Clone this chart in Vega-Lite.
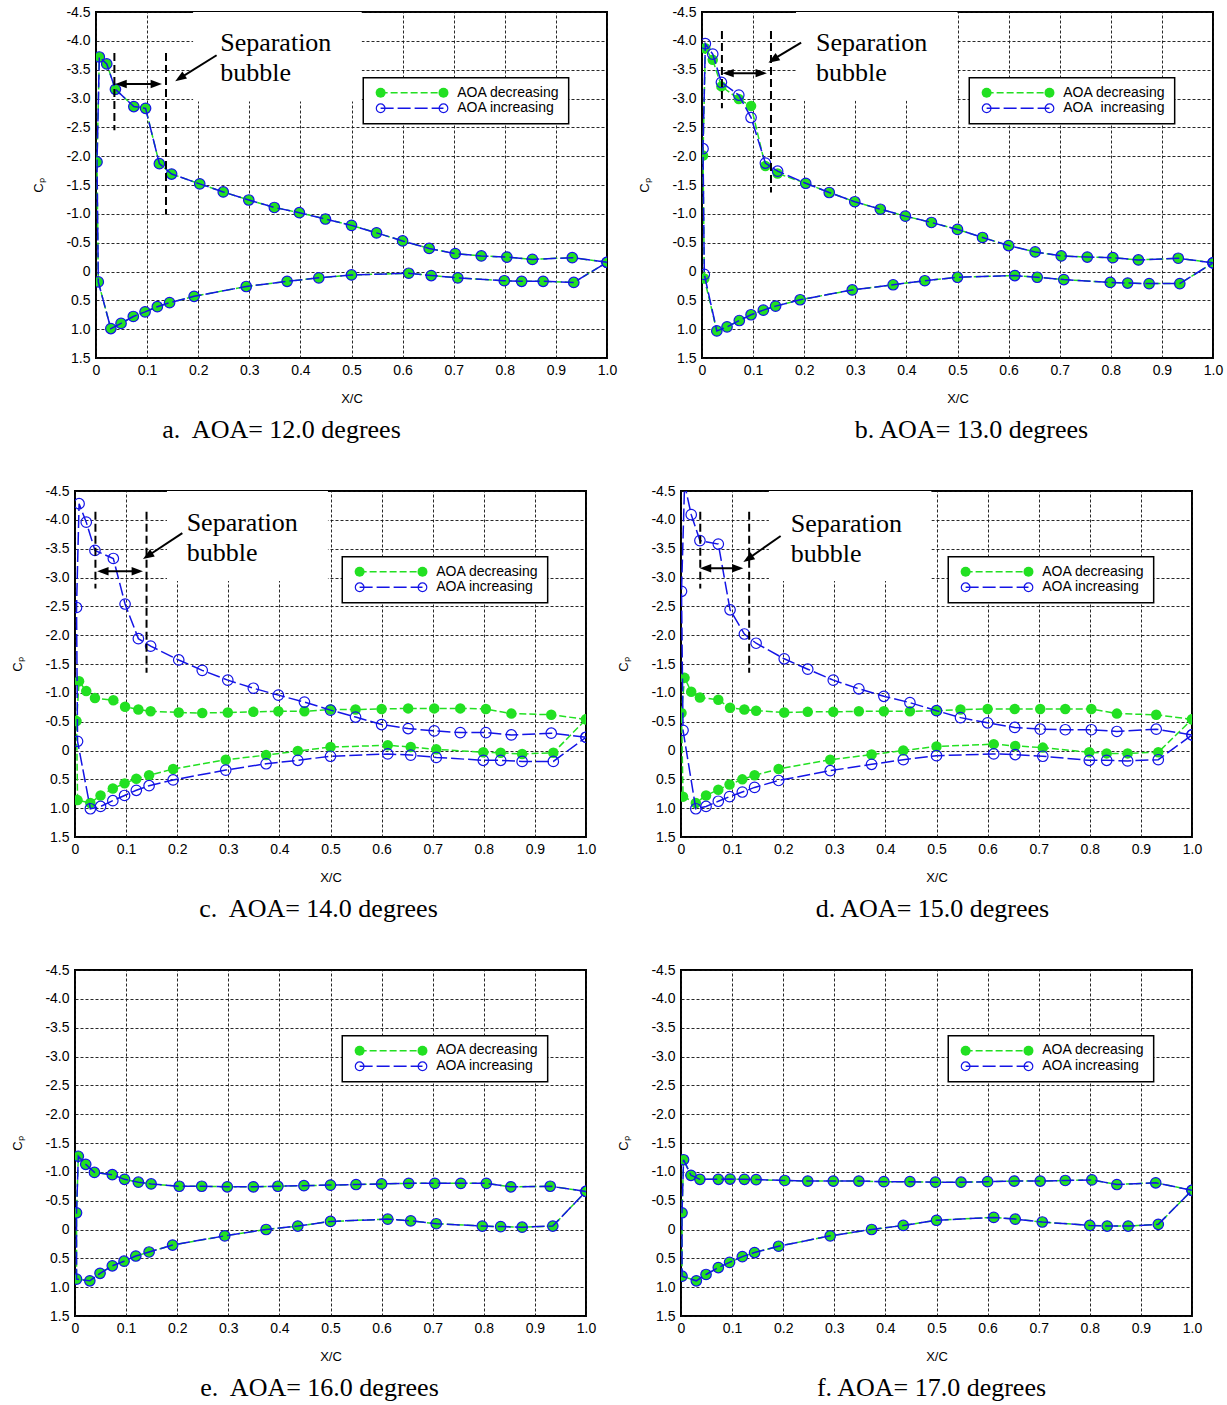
{
"$schema":"https://vega.github.io/schema/vega-lite/v6.json",
"background":"white",
"padding":{"left":10,"top":4,"right":0,"bottom":0},
"config":{
"font":"Liberation Sans",
"view":{"stroke":"#000","strokeWidth":2},
"axis":{"grid":true,"gridColor":"#111","gridDash":[3,2],"gridWidth":0.9,"domain":false,"ticks":false,"labelFont":"Liberation Sans","labelFontSize":14,"labelColor":"#000","labelFlush":false,"labelOverlap":false,"titleFont":"Liberation Sans","titleFontSize":13,"titleFontWeight":"normal","titleColor":"#000"},
"axisX":{"labelPadding":5,"titlePadding":15},
"axisY":{"labelPadding":6,"titlePadding":20},
"title":{"font":"Liberation Serif","fontSize":26,"fontWeight":"normal","color":"#000","orient":"bottom","frame":"group","anchor":"middle","offset":12}
},
"datasets":{
"cp":[
{"panel":"a","ord":0,"x":1,"dec":-0.16,"inc":-0.16},{"panel":"a","ord":1,"x":0.932,"dec":-0.24,"inc":-0.24},{"panel":"a","ord":2,"x":0.854,"dec":-0.21,"inc":-0.21},{"panel":"a","ord":3,"x":0.804,"dec":-0.25,"inc":-0.25},{"panel":"a","ord":4,"x":0.754,"dec":-0.27,"inc":-0.27},{"panel":"a","ord":5,"x":0.703,"dec":-0.31,"inc":-0.31},{"panel":"a","ord":6,"x":0.652,"dec":-0.4,"inc":-0.4},{"panel":"a","ord":7,"x":0.6,"dec":-0.53,"inc":-0.53},{"panel":"a","ord":8,"x":0.549,"dec":-0.67,"inc":-0.67},{"panel":"a","ord":9,"x":0.5,"dec":-0.8,"inc":-0.8},{"panel":"a","ord":10,"x":0.449,"dec":-0.91,"inc":-0.91},{"panel":"a","ord":11,"x":0.398,"dec":-1.02,"inc":-1.02},{"panel":"a","ord":12,"x":0.349,"dec":-1.11,"inc":-1.11},{"panel":"a","ord":13,"x":0.299,"dec":-1.24,"inc":-1.24},{"panel":"a","ord":14,"x":0.249,"dec":-1.38,"inc":-1.38},{"panel":"a","ord":15,"x":0.203,"dec":-1.52,"inc":-1.52},{"panel":"a","ord":16,"x":0.148,"dec":-1.69,"inc":-1.69},{"panel":"a","ord":17,"x":0.124,"dec":-1.87,"inc":-1.87},{"panel":"a","ord":18,"x":0.097,"dec":-2.83,"inc":-2.83},{"panel":"a","ord":19,"x":0.074,"dec":-2.86,"inc":-2.86},{"panel":"a","ord":20,"x":0.038,"dec":-3.16,"inc":-3.16},{"panel":"a","ord":21,"x":0.021,"dec":-3.6,"inc":-3.6},{"panel":"a","ord":22,"x":0.0065,"dec":-3.72,"inc":-3.72},{"panel":"a","ord":23,"x":0.002,"dec":-1.9,"inc":-1.9},
{"panel":"a","ord":24,"x":0.0045,"dec":0.18,"inc":0.18},{"panel":"a","ord":25,"x":0.029,"dec":0.99,"inc":0.99},{"panel":"a","ord":26,"x":0.049,"dec":0.9,"inc":0.9},{"panel":"a","ord":27,"x":0.073,"dec":0.78,"inc":0.78},{"panel":"a","ord":28,"x":0.096,"dec":0.7,"inc":0.7},{"panel":"a","ord":29,"x":0.12,"dec":0.61,"inc":0.61},{"panel":"a","ord":30,"x":0.144,"dec":0.54,"inc":0.54},{"panel":"a","ord":31,"x":0.192,"dec":0.43,"inc":0.43},{"panel":"a","ord":32,"x":0.294,"dec":0.26,"inc":0.26},{"panel":"a","ord":33,"x":0.374,"dec":0.17,"inc":0.17},{"panel":"a","ord":34,"x":0.436,"dec":0.11,"inc":0.11},{"panel":"a","ord":35,"x":0.5,"dec":0.06,"inc":0.06},{"panel":"a","ord":36,"x":0.612,"dec":0.03,"inc":0.03},{"panel":"a","ord":37,"x":0.656,"dec":0.07,"inc":0.07},{"panel":"a","ord":38,"x":0.708,"dec":0.11,"inc":0.11},{"panel":"a","ord":39,"x":0.799,"dec":0.16,"inc":0.16},{"panel":"a","ord":40,"x":0.833,"dec":0.17,"inc":0.17},{"panel":"a","ord":41,"x":0.875,"dec":0.17,"inc":0.17},{"panel":"a","ord":42,"x":0.935,"dec":0.19,"inc":0.19},{"panel":"a","ord":43,"x":1,"dec":-0.16,"inc":-0.16},
{"panel":"b","ord":0,"x":1,"dec":-0.15,"inc":-0.15},{"panel":"b","ord":1,"x":0.932,"dec":-0.23,"inc":-0.23},{"panel":"b","ord":2,"x":0.854,"dec":-0.2,"inc":-0.2},{"panel":"b","ord":3,"x":0.804,"dec":-0.24,"inc":-0.24},{"panel":"b","ord":4,"x":0.754,"dec":-0.25,"inc":-0.25},{"panel":"b","ord":5,"x":0.703,"dec":-0.27,"inc":-0.27},{"panel":"b","ord":6,"x":0.652,"dec":-0.34,"inc":-0.34},{"panel":"b","ord":7,"x":0.6,"dec":-0.45,"inc":-0.45},{"panel":"b","ord":8,"x":0.549,"dec":-0.59,"inc":-0.59},{"panel":"b","ord":9,"x":0.5,"dec":-0.73,"inc":-0.73},{"panel":"b","ord":10,"x":0.449,"dec":-0.85,"inc":-0.85},{"panel":"b","ord":11,"x":0.398,"dec":-0.96,"inc":-0.96},{"panel":"b","ord":12,"x":0.349,"dec":-1.08,"inc":-1.08},{"panel":"b","ord":13,"x":0.299,"dec":-1.21,"inc":-1.21},{"panel":"b","ord":14,"x":0.249,"dec":-1.37,"inc":-1.37},{"panel":"b","ord":15,"x":0.203,"dec":-1.53,"inc":-1.53},{"panel":"b","ord":16,"x":0.148,"dec":-1.7,"inc":-1.74},{"panel":"b","ord":17,"x":0.124,"dec":-1.83,"inc":-1.88},{"panel":"b","ord":18,"x":0.096,"dec":-2.87,"inc":-2.67},{"panel":"b","ord":19,"x":0.072,"dec":-2.99,"inc":-3.06},{"panel":"b","ord":20,"x":0.038,"dec":-3.21,"inc":-3.28},{"panel":"b","ord":21,"x":0.021,"dec":-3.67,"inc":-3.77},{"panel":"b","ord":22,"x":0.0065,"dec":-3.87,"inc":-3.95},{"panel":"b","ord":23,"x":0.002,"dec":-2.01,"inc":-2.13},
{"panel":"b","ord":24,"x":0.0045,"dec":0.12,"inc":0.05},{"panel":"b","ord":25,"x":0.029,"dec":1.03,"inc":1.03},{"panel":"b","ord":26,"x":0.049,"dec":0.96,"inc":0.96},{"panel":"b","ord":27,"x":0.073,"dec":0.85,"inc":0.85},{"panel":"b","ord":28,"x":0.096,"dec":0.75,"inc":0.75},{"panel":"b","ord":29,"x":0.12,"dec":0.67,"inc":0.67},{"panel":"b","ord":30,"x":0.144,"dec":0.6,"inc":0.6},{"panel":"b","ord":31,"x":0.192,"dec":0.49,"inc":0.49},{"panel":"b","ord":32,"x":0.294,"dec":0.32,"inc":0.32},{"panel":"b","ord":33,"x":0.374,"dec":0.23,"inc":0.23},{"panel":"b","ord":34,"x":0.436,"dec":0.16,"inc":0.16},{"panel":"b","ord":35,"x":0.5,"dec":0.1,"inc":0.1},{"panel":"b","ord":36,"x":0.612,"dec":0.07,"inc":0.07},{"panel":"b","ord":37,"x":0.656,"dec":0.1,"inc":0.1},{"panel":"b","ord":38,"x":0.708,"dec":0.14,"inc":0.14},{"panel":"b","ord":39,"x":0.799,"dec":0.19,"inc":0.19},{"panel":"b","ord":40,"x":0.833,"dec":0.2,"inc":0.2},{"panel":"b","ord":41,"x":0.875,"dec":0.21,"inc":0.21},{"panel":"b","ord":42,"x":0.935,"dec":0.21,"inc":0.21},{"panel":"b","ord":43,"x":1,"dec":-0.15,"inc":-0.15},
{"panel":"c","ord":0,"x":1,"dec":-0.54,"inc":-0.23},{"panel":"c","ord":1,"x":0.932,"dec":-0.62,"inc":-0.3},{"panel":"c","ord":2,"x":0.854,"dec":-0.64,"inc":-0.27},{"panel":"c","ord":3,"x":0.804,"dec":-0.72,"inc":-0.31},{"panel":"c","ord":4,"x":0.754,"dec":-0.73,"inc":-0.31},{"panel":"c","ord":5,"x":0.703,"dec":-0.73,"inc":-0.34},{"panel":"c","ord":6,"x":0.652,"dec":-0.73,"inc":-0.38},{"panel":"c","ord":7,"x":0.6,"dec":-0.72,"inc":-0.45},{"panel":"c","ord":8,"x":0.549,"dec":-0.71,"inc":-0.58},{"panel":"c","ord":9,"x":0.5,"dec":-0.71,"inc":-0.7},{"panel":"c","ord":10,"x":0.449,"dec":-0.68,"inc":-0.84},{"panel":"c","ord":11,"x":0.398,"dec":-0.68,"inc":-0.96},{"panel":"c","ord":12,"x":0.349,"dec":-0.67,"inc":-1.08},{"panel":"c","ord":13,"x":0.299,"dec":-0.66,"inc":-1.22},{"panel":"c","ord":14,"x":0.249,"dec":-0.65,"inc":-1.39},{"panel":"c","ord":15,"x":0.203,"dec":-0.66,"inc":-1.57},{"panel":"c","ord":16,"x":0.148,"dec":-0.68,"inc":-1.81},{"panel":"c","ord":17,"x":0.124,"dec":-0.71,"inc":-1.94},{"panel":"c","ord":18,"x":0.098,"dec":-0.76,"inc":-2.54},{"panel":"c","ord":19,"x":0.075,"dec":-0.87,"inc":-3.33},{"panel":"c","ord":20,"x":0.039,"dec":-0.91,"inc":-3.47},{"panel":"c","ord":21,"x":0.022,"dec":-1.03,"inc":-3.96},{"panel":"c","ord":22,"x":0.008,"dec":-1.2,"inc":-4.28},{"panel":"c","ord":23,"x":0.003,"dec":-0.51,"inc":-2.48},
{"panel":"c","ord":24,"x":0.005,"dec":0.86,"inc":-0.16},{"panel":"c","ord":25,"x":0.03,"dec":0.91,"inc":1.01},{"panel":"c","ord":26,"x":0.05,"dec":0.78,"inc":0.97},{"panel":"c","ord":27,"x":0.074,"dec":0.66,"inc":0.87},{"panel":"c","ord":28,"x":0.097,"dec":0.57,"inc":0.78},{"panel":"c","ord":29,"x":0.12,"dec":0.49,"inc":0.69},{"panel":"c","ord":30,"x":0.145,"dec":0.43,"inc":0.61},{"panel":"c","ord":31,"x":0.192,"dec":0.32,"inc":0.51},{"panel":"c","ord":32,"x":0.295,"dec":0.16,"inc":0.34},{"panel":"c","ord":33,"x":0.374,"dec":0.08,"inc":0.23},{"panel":"c","ord":34,"x":0.436,"dec":0.01,"inc":0.17},{"panel":"c","ord":35,"x":0.5,"dec":-0.06,"inc":0.1},{"panel":"c","ord":36,"x":0.612,"dec":-0.09,"inc":0.06},{"panel":"c","ord":37,"x":0.657,"dec":-0.06,"inc":0.08},{"panel":"c","ord":38,"x":0.707,"dec":-0.02,"inc":0.12},{"panel":"c","ord":39,"x":0.799,"dec":0.03,"inc":0.17},{"panel":"c","ord":40,"x":0.833,"dec":0.04,"inc":0.17},{"panel":"c","ord":41,"x":0.875,"dec":0.06,"inc":0.19},{"panel":"c","ord":42,"x":0.936,"dec":0.04,"inc":0.19},{"panel":"c","ord":43,"x":1,"dec":-0.54,"inc":-0.23},
{"panel":"d","ord":0,"x":1,"dec":-0.54,"inc":-0.27},{"panel":"d","ord":1,"x":0.93,"dec":-0.62,"inc":-0.37},{"panel":"d","ord":2,"x":0.853,"dec":-0.64,"inc":-0.33},{"panel":"d","ord":3,"x":0.803,"dec":-0.72,"inc":-0.36},{"panel":"d","ord":4,"x":0.752,"dec":-0.72,"inc":-0.36},{"panel":"d","ord":5,"x":0.703,"dec":-0.72,"inc":-0.37},{"panel":"d","ord":6,"x":0.653,"dec":-0.72,"inc":-0.4},{"panel":"d","ord":7,"x":0.6,"dec":-0.72,"inc":-0.48},{"panel":"d","ord":8,"x":0.547,"dec":-0.71,"inc":-0.57},{"panel":"d","ord":9,"x":0.5,"dec":-0.69,"inc":-0.69},{"panel":"d","ord":10,"x":0.448,"dec":-0.68,"inc":-0.83},{"panel":"d","ord":11,"x":0.397,"dec":-0.68,"inc":-0.94},{"panel":"d","ord":12,"x":0.348,"dec":-0.68,"inc":-1.07},{"panel":"d","ord":13,"x":0.298,"dec":-0.67,"inc":-1.22},{"panel":"d","ord":14,"x":0.248,"dec":-0.67,"inc":-1.41},{"panel":"d","ord":15,"x":0.202,"dec":-0.66,"inc":-1.59},{"panel":"d","ord":16,"x":0.147,"dec":-0.69,"inc":-1.86},{"panel":"d","ord":17,"x":0.124,"dec":-0.71,"inc":-2.02},{"panel":"d","ord":18,"x":0.096,"dec":-0.74,"inc":-2.44},{"panel":"d","ord":19,"x":0.073,"dec":-0.88,"inc":-3.58},{"panel":"d","ord":20,"x":0.037,"dec":-0.92,"inc":-3.64},{"panel":"d","ord":21,"x":0.02,"dec":-1.02,"inc":-4.09},{"panel":"d","ord":22,"x":0.007,"dec":-1.26,"inc":-4.62},{"panel":"d","ord":23,"x":0.001,"dec":-0.65,"inc":-2.76},
{"panel":"d","ord":24,"x":0.004,"dec":0.8,"inc":-0.35},{"panel":"d","ord":25,"x":0.029,"dec":0.91,"inc":1.01},{"panel":"d","ord":26,"x":0.049,"dec":0.78,"inc":0.97},{"panel":"d","ord":27,"x":0.073,"dec":0.68,"inc":0.88},{"panel":"d","ord":28,"x":0.095,"dec":0.59,"inc":0.8},{"panel":"d","ord":29,"x":0.12,"dec":0.5,"inc":0.72},{"panel":"d","ord":30,"x":0.144,"dec":0.43,"inc":0.64},{"panel":"d","ord":31,"x":0.191,"dec":0.32,"inc":0.52},{"panel":"d","ord":32,"x":0.292,"dec":0.16,"inc":0.35},{"panel":"d","ord":33,"x":0.373,"dec":0.07,"inc":0.24},{"panel":"d","ord":34,"x":0.435,"dec":0,"inc":0.16},{"panel":"d","ord":35,"x":0.5,"dec":-0.07,"inc":0.09},{"panel":"d","ord":36,"x":0.612,"dec":-0.11,"inc":0.06},{"panel":"d","ord":37,"x":0.654,"dec":-0.08,"inc":0.07},{"panel":"d","ord":38,"x":0.708,"dec":-0.05,"inc":0.1},{"panel":"d","ord":39,"x":0.799,"dec":0.03,"inc":0.17},{"panel":"d","ord":40,"x":0.833,"dec":0.05,"inc":0.17},{"panel":"d","ord":41,"x":0.874,"dec":0.05,"inc":0.18},{"panel":"d","ord":42,"x":0.934,"dec":0.03,"inc":0.16},{"panel":"d","ord":43,"x":1,"dec":-0.54,"inc":-0.27},
{"panel":"e","ord":0,"x":1,"dec":-0.66,"inc":-0.66},{"panel":"e","ord":1,"x":0.93,"dec":-0.75,"inc":-0.75},{"panel":"e","ord":2,"x":0.853,"dec":-0.74,"inc":-0.74},{"panel":"e","ord":3,"x":0.805,"dec":-0.8,"inc":-0.8},{"panel":"e","ord":4,"x":0.755,"dec":-0.8,"inc":-0.8},{"panel":"e","ord":5,"x":0.704,"dec":-0.8,"inc":-0.8},{"panel":"e","ord":6,"x":0.653,"dec":-0.8,"inc":-0.8},{"panel":"e","ord":7,"x":0.6,"dec":-0.79,"inc":-0.79},{"panel":"e","ord":8,"x":0.55,"dec":-0.78,"inc":-0.78},{"panel":"e","ord":9,"x":0.5,"dec":-0.77,"inc":-0.77},{"panel":"e","ord":10,"x":0.448,"dec":-0.76,"inc":-0.76},{"panel":"e","ord":11,"x":0.397,"dec":-0.75,"inc":-0.75},{"panel":"e","ord":12,"x":0.349,"dec":-0.74,"inc":-0.74},{"panel":"e","ord":13,"x":0.298,"dec":-0.74,"inc":-0.74},{"panel":"e","ord":14,"x":0.248,"dec":-0.75,"inc":-0.75},{"panel":"e","ord":15,"x":0.204,"dec":-0.75,"inc":-0.75},{"panel":"e","ord":16,"x":0.149,"dec":-0.79,"inc":-0.79},{"panel":"e","ord":17,"x":0.124,"dec":-0.82,"inc":-0.82},{"panel":"e","ord":18,"x":0.097,"dec":-0.87,"inc":-0.87},{"panel":"e","ord":19,"x":0.073,"dec":-0.95,"inc":-0.95},{"panel":"e","ord":20,"x":0.038,"dec":-0.99,"inc":-0.99},{"panel":"e","ord":21,"x":0.021,"dec":-1.13,"inc":-1.13},{"panel":"e","ord":22,"x":0.0065,"dec":-1.27,"inc":-1.27},{"panel":"e","ord":23,"x":0.003,"dec":-0.29,"inc":-0.29},
{"panel":"e","ord":24,"x":0.003,"dec":0.86,"inc":0.86},{"panel":"e","ord":25,"x":0.029,"dec":0.89,"inc":0.89},{"panel":"e","ord":26,"x":0.049,"dec":0.76,"inc":0.76},{"panel":"e","ord":27,"x":0.073,"dec":0.63,"inc":0.63},{"panel":"e","ord":28,"x":0.096,"dec":0.55,"inc":0.55},{"panel":"e","ord":29,"x":0.119,"dec":0.46,"inc":0.46},{"panel":"e","ord":30,"x":0.145,"dec":0.39,"inc":0.39},{"panel":"e","ord":31,"x":0.191,"dec":0.27,"inc":0.27},{"panel":"e","ord":32,"x":0.293,"dec":0.11,"inc":0.11},{"panel":"e","ord":33,"x":0.374,"dec":0,"inc":0},{"panel":"e","ord":34,"x":0.436,"dec":-0.06,"inc":-0.06},{"panel":"e","ord":35,"x":0.5,"dec":-0.14,"inc":-0.14},{"panel":"e","ord":36,"x":0.612,"dec":-0.18,"inc":-0.18},{"panel":"e","ord":37,"x":0.657,"dec":-0.15,"inc":-0.15},{"panel":"e","ord":38,"x":0.707,"dec":-0.1,"inc":-0.1},{"panel":"e","ord":39,"x":0.797,"dec":-0.06,"inc":-0.06},{"panel":"e","ord":40,"x":0.833,"dec":-0.05,"inc":-0.05},{"panel":"e","ord":41,"x":0.875,"dec":-0.04,"inc":-0.04},{"panel":"e","ord":42,"x":0.935,"dec":-0.06,"inc":-0.06},{"panel":"e","ord":43,"x":1,"dec":-0.66,"inc":-0.66},
{"panel":"f","ord":0,"x":1,"dec":-0.68,"inc":-0.68},{"panel":"f","ord":1,"x":0.929,"dec":-0.81,"inc":-0.81},{"panel":"f","ord":2,"x":0.853,"dec":-0.78,"inc":-0.78},{"panel":"f","ord":3,"x":0.804,"dec":-0.86,"inc":-0.86},{"panel":"f","ord":4,"x":0.752,"dec":-0.85,"inc":-0.85},{"panel":"f","ord":5,"x":0.703,"dec":-0.84,"inc":-0.84},{"panel":"f","ord":6,"x":0.652,"dec":-0.84,"inc":-0.84},{"panel":"f","ord":7,"x":0.6,"dec":-0.83,"inc":-0.83},{"panel":"f","ord":8,"x":0.548,"dec":-0.82,"inc":-0.82},{"panel":"f","ord":9,"x":0.498,"dec":-0.82,"inc":-0.82},{"panel":"f","ord":10,"x":0.448,"dec":-0.83,"inc":-0.83},{"panel":"f","ord":11,"x":0.397,"dec":-0.83,"inc":-0.83},{"panel":"f","ord":12,"x":0.348,"dec":-0.84,"inc":-0.84},{"panel":"f","ord":13,"x":0.298,"dec":-0.84,"inc":-0.84},{"panel":"f","ord":14,"x":0.248,"dec":-0.84,"inc":-0.84},{"panel":"f","ord":15,"x":0.203,"dec":-0.85,"inc":-0.85},{"panel":"f","ord":16,"x":0.147,"dec":-0.865,"inc":-0.865},{"panel":"f","ord":17,"x":0.124,"dec":-0.87,"inc":-0.87},{"panel":"f","ord":18,"x":0.096,"dec":-0.875,"inc":-0.875},{"panel":"f","ord":19,"x":0.073,"dec":-0.87,"inc":-0.87},{"panel":"f","ord":20,"x":0.037,"dec":-0.87,"inc":-0.87},{"panel":"f","ord":21,"x":0.0195,"dec":-0.94,"inc":-0.94},{"panel":"f","ord":22,"x":0.005,"dec":-1.21,"inc":-1.21},{"panel":"f","ord":23,"x":0.002,"dec":-0.29,"inc":-0.29},
{"panel":"f","ord":24,"x":0.002,"dec":0.81,"inc":0.81},{"panel":"f","ord":25,"x":0.03,"dec":0.89,"inc":0.89},{"panel":"f","ord":26,"x":0.049,"dec":0.78,"inc":0.78},{"panel":"f","ord":27,"x":0.073,"dec":0.66,"inc":0.66},{"panel":"f","ord":28,"x":0.095,"dec":0.57,"inc":0.57},{"panel":"f","ord":29,"x":0.12,"dec":0.47,"inc":0.47},{"panel":"f","ord":30,"x":0.144,"dec":0.4,"inc":0.4},{"panel":"f","ord":31,"x":0.191,"dec":0.29,"inc":0.29},{"panel":"f","ord":32,"x":0.292,"dec":0.11,"inc":0.11},{"panel":"f","ord":33,"x":0.373,"dec":0,"inc":0},{"panel":"f","ord":34,"x":0.435,"dec":-0.07,"inc":-0.07},{"panel":"f","ord":35,"x":0.5,"dec":-0.16,"inc":-0.16},{"panel":"f","ord":36,"x":0.612,"dec":-0.21,"inc":-0.21},{"panel":"f","ord":37,"x":0.654,"dec":-0.18,"inc":-0.18},{"panel":"f","ord":38,"x":0.707,"dec":-0.13,"inc":-0.13},{"panel":"f","ord":39,"x":0.8,"dec":-0.07,"inc":-0.07},{"panel":"f","ord":40,"x":0.834,"dec":-0.06,"inc":-0.06},{"panel":"f","ord":41,"x":0.875,"dec":-0.06,"inc":-0.06},{"panel":"f","ord":42,"x":0.934,"dec":-0.09,"inc":-0.09},{"panel":"f","ord":43,"x":1,"dec":-0.68,"inc":-0.68}
],
"ann":[
{"panel":"a","kind":"mask","x":0.19,"cp":-4.5,"x2":0.52,"cp2":-2.95},
{"panel":"a","kind":"vline","x":0.036,"cp":-3.79,"x2":0.036,"cp2":-2.45},
{"panel":"a","kind":"vline","x":0.137,"cp":-3.79,"x2":0.137,"cp2":-0.99},
{"panel":"a","kind":"shaft","x":0.045,"cp":-3.25,"x2":0.122,"cp2":-3.25},
{"panel":"a","kind":"shaft","x":0.236,"cp":-3.75,"x2":0.162,"cp2":-3.34},
{"panel":"a","kind":"headL","x":0.038,"cp":-3.25},
{"panel":"a","kind":"headR","x":0.129,"cp":-3.25},
{"panel":"a","kind":"headP","x":0.155,"cp":-3.3},
{"panel":"a","kind":"sep","x":0.243,"cp":-3.97,"label":"Separation"},
{"panel":"a","kind":"sep","x":0.243,"cp":-3.45,"label":"bubble"},
{"panel":"a","kind":"legtext","x":0.707,"cp":-3.1,"label":"AOA decreasing"},
{"panel":"a","kind":"legtext","x":0.707,"cp":-2.83,"label":"AOA increasing"},
{"panel":"b","kind":"mask","x":0.184,"cp":-4.5,"x2":0.5,"cp2":-2.96},
{"panel":"b","kind":"vline","x":0.039,"cp":-4.17,"x2":0.039,"cp2":-2.83},
{"panel":"b","kind":"vline","x":0.135,"cp":-4.17,"x2":0.135,"cp2":-1.37},
{"panel":"b","kind":"shaft","x":0.047,"cp":-3.44,"x2":0.12,"cp2":-3.44},
{"panel":"b","kind":"shaft","x":0.194,"cp":-3.97,"x2":0.136,"cp2":-3.66},
{"panel":"b","kind":"headL","x":0.04,"cp":-3.44},
{"panel":"b","kind":"headR","x":0.127,"cp":-3.44},
{"panel":"b","kind":"headP","x":0.13,"cp":-3.62},
{"panel":"b","kind":"sep","x":0.223,"cp":-3.96,"label":"Separation"},
{"panel":"b","kind":"sep","x":0.223,"cp":-3.44,"label":"bubble"},
{"panel":"b","kind":"legtext","x":0.707,"cp":-3.1,"label":"AOA decreasing"},
{"panel":"b","kind":"legtext","x":0.707,"cp":-2.83,"label":"AOA\u00a0 increasing"},
{"panel":"c","kind":"mask","x":0.18,"cp":-4.5,"x2":0.495,"cp2":-2.94},
{"panel":"c","kind":"vline","x":0.04,"cp":-4.14,"x2":0.04,"cp2":-2.81},
{"panel":"c","kind":"vline","x":0.14,"cp":-4.14,"x2":0.14,"cp2":-1.35},
{"panel":"c","kind":"shaft","x":0.05,"cp":-3.11,"x2":0.126,"cp2":-3.11},
{"panel":"c","kind":"shaft","x":0.21,"cp":-3.77,"x2":0.14,"cp2":-3.36},
{"panel":"c","kind":"headL","x":0.0435,"cp":-3.11},
{"panel":"c","kind":"headR","x":0.133,"cp":-3.11},
{"panel":"c","kind":"headP","x":0.133,"cp":-3.32},
{"panel":"c","kind":"sep","x":0.2185,"cp":-3.95,"label":"Separation"},
{"panel":"c","kind":"sep","x":0.2185,"cp":-3.43,"label":"bubble"},
{"panel":"c","kind":"legtext","x":0.707,"cp":-3.1,"label":"AOA decreasing"},
{"panel":"c","kind":"legtext","x":0.707,"cp":-2.83,"label":"AOA increasing"},
{"panel":"d","kind":"mask","x":0.172,"cp":-4.5,"x2":0.49,"cp2":-2.94},
{"panel":"d","kind":"vline","x":0.0377,"cp":-4.14,"x2":0.0377,"cp2":-2.81},
{"panel":"d","kind":"vline","x":0.1334,"cp":-4.14,"x2":0.1334,"cp2":-1.35},
{"panel":"d","kind":"shaft","x":0.044,"cp":-3.16,"x2":0.115,"cp2":-3.16},
{"panel":"d","kind":"shaft","x":0.195,"cp":-3.72,"x2":0.129,"cp2":-3.31},
{"panel":"d","kind":"headL","x":0.037,"cp":-3.16},
{"panel":"d","kind":"headR","x":0.122,"cp":-3.16},
{"panel":"d","kind":"headP","x":0.122,"cp":-3.27},
{"panel":"d","kind":"sep","x":0.215,"cp":-3.93,"label":"Separation"},
{"panel":"d","kind":"sep","x":0.215,"cp":-3.41,"label":"bubble"},
{"panel":"d","kind":"legtext","x":0.707,"cp":-3.1,"label":"AOA decreasing"},
{"panel":"d","kind":"legtext","x":0.707,"cp":-2.83,"label":"AOA increasing"},
{"panel":"e","kind":"legtext","x":0.707,"cp":-3.11,"label":"AOA decreasing"},
{"panel":"e","kind":"legtext","x":0.707,"cp":-2.83,"label":"AOA increasing"},
{"panel":"f","kind":"legtext","x":0.707,"cp":-3.11,"label":"AOA decreasing"},
{"panel":"f","kind":"legtext","x":0.707,"cp":-2.83,"label":"AOA increasing"}
],
"leg":[
{"kind":"box","x":0.523,"cp":-3.36,"x2":0.925,"cp2":-2.56},
{"kind":"line","series":"dec","x":0.557,"cp":-3.1,"x2":0.68,"cp2":-3.1},
{"kind":"line","series":"inc","x":0.557,"cp":-2.83,"x2":0.68,"cp2":-2.83},
{"kind":"pt","series":"dec","x":0.557,"cp":-3.1},
{"kind":"pt","series":"dec","x":0.68,"cp":-3.1},
{"kind":"pt","series":"inc","x":0.557,"cp":-2.83},
{"kind":"pt","series":"inc","x":0.68,"cp":-2.83}
]
},
"vconcat":[
{"hconcat":[
{"width":1,"height":1,"data":{"values":[]},"mark":"point","view":{"stroke":null}},
{"hconcat":[
{"width":511,"height":346,"title":{"text":"a.\u00a0 AOA= 12.0 degrees","dx":-70},
"encoding":{"x":{"field":"x","type":"quantitative","title":"X/C","scale":{"domain":[0,1],"nice":false,"zero":false},"axis":{"values":[0,0.1,0.2,0.3,0.4,0.5,0.6,0.7,0.8,0.9,1],"labelExpr":"datum.value==0?'0':format(datum.value,'.1f')"}},
"y":{"field":"cp","type":"quantitative","title":"Cₚ","scale":{"domain":[-4.5,1.5],"reverse":true,"nice":false,"zero":false},"axis":{"values":[-4.5,-4,-3.5,-3,-2.5,-2,-1.5,-1,-0.5,0,0.5,1,1.5],"labelExpr":"datum.value==0?'0':(datum.value<0?'-':'')+format(abs(datum.value),'.1f')"}}},
"layer":[
{"data":{"name":"ann"},"transform":[{"filter":"datum.panel=='a'&&datum.kind=='mask'"}],"mark":{"type":"rect","fill":"#fff","strokeWidth":0},"encoding":{"x2":{"field":"x2"},"y2":{"field":"cp2"}}},
{"data":{"name":"leg"},"transform":[{"filter":"datum.kind=='box'"}],"mark":{"type":"rect","fill":"#fff","stroke":"#000","strokeWidth":1.5},"encoding":{"x2":{"field":"x2"},"y2":{"field":"cp2"}}},
{"data":{"name":"cp"},"transform":[{"filter":"datum.panel=='a'"},{"fold":["dec"],"as":["series","cp"]}],"mark":{"type":"line","stroke":"#22e022","strokeWidth":1.5,"strokeDash":[7,3],"clip":true},"encoding":{"order":{"field":"ord","type":"quantitative"}}},
{"data":{"name":"cp"},"transform":[{"filter":"datum.panel=='a'"},{"fold":["dec"],"as":["series","cp"]}],"mark":{"type":"point","filled":true,"fill":"#22e022","strokeWidth":0,"size":110,"opacity":1,"clip":true}},
{"data":{"name":"cp"},"transform":[{"filter":"datum.panel=='a'"},{"fold":["inc"],"as":["series","cp"]}],"mark":{"type":"line","stroke":"#1414e6","strokeWidth":1.5,"strokeDash":[13,4],"clip":true},"encoding":{"order":{"field":"ord","type":"quantitative"}}},
{"data":{"name":"cp"},"transform":[{"filter":"datum.panel=='a'"},{"fold":["inc"],"as":["series","cp"]}],"mark":{"type":"point","filled":false,"stroke":"#1414e6","strokeWidth":1.2,"size":110,"opacity":1,"clip":true}},
{"data":{"name":"ann"},"transform":[{"filter":"datum.panel=='a'&&datum.kind=='vline'"}],"mark":{"type":"rule","stroke":"#000","strokeWidth":2,"strokeDash":[8,4]},"encoding":{"x2":{"field":"x2"},"y2":{"field":"cp2"}}},
{"data":{"name":"ann"},"transform":[{"filter":"datum.panel=='a'&&datum.kind=='shaft'"}],"mark":{"type":"rule","stroke":"#000","strokeWidth":2},"encoding":{"x2":{"field":"x2"},"y2":{"field":"cp2"}}},
{"data":{"name":"ann"},"transform":[{"filter":"datum.panel=='a'&&datum.kind=='headL'"}],"mark":{"type":"point","shape":"M0,0L-0.6,1.6L0.6,1.6Z","size":200,"filled":true,"fill":"#000","strokeWidth":0,"opacity":1,"angle":270}},
{"data":{"name":"ann"},"transform":[{"filter":"datum.panel=='a'&&datum.kind=='headR'"}],"mark":{"type":"point","shape":"M0,0L-0.6,1.6L0.6,1.6Z","size":200,"filled":true,"fill":"#000","strokeWidth":0,"opacity":1,"angle":90}},
{"data":{"name":"ann"},"transform":[{"filter":"datum.panel=='a'&&datum.kind=='headP'"}],"mark":{"type":"point","shape":"M0,0L-0.6,1.6L0.6,1.6Z","size":200,"filled":true,"fill":"#000","strokeWidth":0,"opacity":1,"angle":237}},
{"data":{"name":"ann"},"transform":[{"filter":"datum.panel=='a'&&datum.kind=='sep'"}],"mark":{"type":"text","font":"Liberation Serif","fontSize":26,"align":"left","baseline":"middle","color":"#000"},"encoding":{"text":{"field":"label"}}},
{"data":{"name":"leg"},"transform":[{"filter":"datum.kind=='line'&&datum.series=='dec'"}],"mark":{"type":"rule","stroke":"#22e022","strokeWidth":1.5,"strokeDash":[7,3]},"encoding":{"x2":{"field":"x2"},"y2":{"field":"cp2"}}},
{"data":{"name":"leg"},"transform":[{"filter":"datum.kind=='line'&&datum.series=='inc'"}],"mark":{"type":"rule","stroke":"#1414e6","strokeWidth":1.5,"strokeDash":[13,4]},"encoding":{"x2":{"field":"x2"},"y2":{"field":"cp2"}}},
{"data":{"name":"leg"},"transform":[{"filter":"datum.kind=='pt'&&datum.series=='dec'"}],"mark":{"type":"point","filled":true,"fill":"#22e022","strokeWidth":0,"size":100,"opacity":1}},
{"data":{"name":"leg"},"transform":[{"filter":"datum.kind=='pt'&&datum.series=='inc'"}],"mark":{"type":"point","filled":false,"stroke":"#1414e6","strokeWidth":1.2,"size":75,"opacity":1}},
{"data":{"name":"ann"},"transform":[{"filter":"datum.panel=='a'&&datum.kind=='legtext'"}],"mark":{"type":"text","font":"Liberation Sans","fontSize":14,"align":"left","baseline":"middle","color":"#000"},"encoding":{"text":{"field":"label"}}}
]},
{"width":511,"height":346,"title":{"text":"b. AOA= 13.0 degrees","dx":14},
"encoding":{"x":{"field":"x","type":"quantitative","title":"X/C","scale":{"domain":[0,1],"nice":false,"zero":false},"axis":{"values":[0,0.1,0.2,0.3,0.4,0.5,0.6,0.7,0.8,0.9,1],"labelExpr":"datum.value==0?'0':format(datum.value,'.1f')"}},
"y":{"field":"cp","type":"quantitative","title":"Cₚ","scale":{"domain":[-4.5,1.5],"reverse":true,"nice":false,"zero":false},"axis":{"values":[-4.5,-4,-3.5,-3,-2.5,-2,-1.5,-1,-0.5,0,0.5,1,1.5],"labelExpr":"datum.value==0?'0':(datum.value<0?'-':'')+format(abs(datum.value),'.1f')"}}},
"layer":[
{"data":{"name":"ann"},"transform":[{"filter":"datum.panel=='b'&&datum.kind=='mask'"}],"mark":{"type":"rect","fill":"#fff","strokeWidth":0},"encoding":{"x2":{"field":"x2"},"y2":{"field":"cp2"}}},
{"data":{"name":"leg"},"transform":[{"filter":"datum.kind=='box'"}],"mark":{"type":"rect","fill":"#fff","stroke":"#000","strokeWidth":1.5},"encoding":{"x2":{"field":"x2"},"y2":{"field":"cp2"}}},
{"data":{"name":"cp"},"transform":[{"filter":"datum.panel=='b'"},{"fold":["dec"],"as":["series","cp"]}],"mark":{"type":"line","stroke":"#22e022","strokeWidth":1.5,"strokeDash":[7,3],"clip":true},"encoding":{"order":{"field":"ord","type":"quantitative"}}},
{"data":{"name":"cp"},"transform":[{"filter":"datum.panel=='b'"},{"fold":["dec"],"as":["series","cp"]}],"mark":{"type":"point","filled":true,"fill":"#22e022","strokeWidth":0,"size":110,"opacity":1,"clip":true}},
{"data":{"name":"cp"},"transform":[{"filter":"datum.panel=='b'"},{"fold":["inc"],"as":["series","cp"]}],"mark":{"type":"line","stroke":"#1414e6","strokeWidth":1.5,"strokeDash":[13,4],"clip":true},"encoding":{"order":{"field":"ord","type":"quantitative"}}},
{"data":{"name":"cp"},"transform":[{"filter":"datum.panel=='b'"},{"fold":["inc"],"as":["series","cp"]}],"mark":{"type":"point","filled":false,"stroke":"#1414e6","strokeWidth":1.2,"size":110,"opacity":1,"clip":true}},
{"data":{"name":"ann"},"transform":[{"filter":"datum.panel=='b'&&datum.kind=='vline'"}],"mark":{"type":"rule","stroke":"#000","strokeWidth":2,"strokeDash":[8,4]},"encoding":{"x2":{"field":"x2"},"y2":{"field":"cp2"}}},
{"data":{"name":"ann"},"transform":[{"filter":"datum.panel=='b'&&datum.kind=='shaft'"}],"mark":{"type":"rule","stroke":"#000","strokeWidth":2},"encoding":{"x2":{"field":"x2"},"y2":{"field":"cp2"}}},
{"data":{"name":"ann"},"transform":[{"filter":"datum.panel=='b'&&datum.kind=='headL'"}],"mark":{"type":"point","shape":"M0,0L-0.6,1.6L0.6,1.6Z","size":200,"filled":true,"fill":"#000","strokeWidth":0,"opacity":1,"angle":270}},
{"data":{"name":"ann"},"transform":[{"filter":"datum.panel=='b'&&datum.kind=='headR'"}],"mark":{"type":"point","shape":"M0,0L-0.6,1.6L0.6,1.6Z","size":200,"filled":true,"fill":"#000","strokeWidth":0,"opacity":1,"angle":90}},
{"data":{"name":"ann"},"transform":[{"filter":"datum.panel=='b'&&datum.kind=='headP'"}],"mark":{"type":"point","shape":"M0,0L-0.6,1.6L0.6,1.6Z","size":200,"filled":true,"fill":"#000","strokeWidth":0,"opacity":1,"angle":237}},
{"data":{"name":"ann"},"transform":[{"filter":"datum.panel=='b'&&datum.kind=='sep'"}],"mark":{"type":"text","font":"Liberation Serif","fontSize":26,"align":"left","baseline":"middle","color":"#000"},"encoding":{"text":{"field":"label"}}},
{"data":{"name":"leg"},"transform":[{"filter":"datum.kind=='line'&&datum.series=='dec'"}],"mark":{"type":"rule","stroke":"#22e022","strokeWidth":1.5,"strokeDash":[7,3]},"encoding":{"x2":{"field":"x2"},"y2":{"field":"cp2"}}},
{"data":{"name":"leg"},"transform":[{"filter":"datum.kind=='line'&&datum.series=='inc'"}],"mark":{"type":"rule","stroke":"#1414e6","strokeWidth":1.5,"strokeDash":[13,4]},"encoding":{"x2":{"field":"x2"},"y2":{"field":"cp2"}}},
{"data":{"name":"leg"},"transform":[{"filter":"datum.kind=='pt'&&datum.series=='dec'"}],"mark":{"type":"point","filled":true,"fill":"#22e022","strokeWidth":0,"size":100,"opacity":1}},
{"data":{"name":"leg"},"transform":[{"filter":"datum.kind=='pt'&&datum.series=='inc'"}],"mark":{"type":"point","filled":false,"stroke":"#1414e6","strokeWidth":1.2,"size":75,"opacity":1}},
{"data":{"name":"ann"},"transform":[{"filter":"datum.panel=='b'&&datum.kind=='legtext'"}],"mark":{"type":"text","font":"Liberation Sans","fontSize":14,"align":"left","baseline":"middle","color":"#000"},"encoding":{"text":{"field":"label"}}}
]}
],"spacing":19}
],"spacing":-45},
{"hconcat":[
{"width":511,"height":346,"title":{"text":"c.\u00a0 AOA= 14.0 degrees","dx":-12},
"encoding":{"x":{"field":"x","type":"quantitative","title":"X/C","scale":{"domain":[0,1],"nice":false,"zero":false},"axis":{"values":[0,0.1,0.2,0.3,0.4,0.5,0.6,0.7,0.8,0.9,1],"labelExpr":"datum.value==0?'0':format(datum.value,'.1f')"}},
"y":{"field":"cp","type":"quantitative","title":"Cₚ","scale":{"domain":[-4.5,1.5],"reverse":true,"nice":false,"zero":false},"axis":{"values":[-4.5,-4,-3.5,-3,-2.5,-2,-1.5,-1,-0.5,0,0.5,1,1.5],"labelExpr":"datum.value==0?'0':(datum.value<0?'-':'')+format(abs(datum.value),'.1f')"}}},
"layer":[
{"data":{"name":"ann"},"transform":[{"filter":"datum.panel=='c'&&datum.kind=='mask'"}],"mark":{"type":"rect","fill":"#fff","strokeWidth":0},"encoding":{"x2":{"field":"x2"},"y2":{"field":"cp2"}}},
{"data":{"name":"leg"},"transform":[{"filter":"datum.kind=='box'"}],"mark":{"type":"rect","fill":"#fff","stroke":"#000","strokeWidth":1.5},"encoding":{"x2":{"field":"x2"},"y2":{"field":"cp2"}}},
{"data":{"name":"cp"},"transform":[{"filter":"datum.panel=='c'"},{"fold":["dec"],"as":["series","cp"]}],"mark":{"type":"line","stroke":"#22e022","strokeWidth":1.5,"strokeDash":[7,3],"clip":true},"encoding":{"order":{"field":"ord","type":"quantitative"}}},
{"data":{"name":"cp"},"transform":[{"filter":"datum.panel=='c'"},{"fold":["dec"],"as":["series","cp"]}],"mark":{"type":"point","filled":true,"fill":"#22e022","strokeWidth":0,"size":110,"opacity":1,"clip":true}},
{"data":{"name":"cp"},"transform":[{"filter":"datum.panel=='c'"},{"fold":["inc"],"as":["series","cp"]}],"mark":{"type":"line","stroke":"#1414e6","strokeWidth":1.5,"strokeDash":[13,4],"clip":true},"encoding":{"order":{"field":"ord","type":"quantitative"}}},
{"data":{"name":"cp"},"transform":[{"filter":"datum.panel=='c'"},{"fold":["inc"],"as":["series","cp"]}],"mark":{"type":"point","filled":false,"stroke":"#1414e6","strokeWidth":1.2,"size":110,"opacity":1,"clip":true}},
{"data":{"name":"ann"},"transform":[{"filter":"datum.panel=='c'&&datum.kind=='vline'"}],"mark":{"type":"rule","stroke":"#000","strokeWidth":2,"strokeDash":[8,4]},"encoding":{"x2":{"field":"x2"},"y2":{"field":"cp2"}}},
{"data":{"name":"ann"},"transform":[{"filter":"datum.panel=='c'&&datum.kind=='shaft'"}],"mark":{"type":"rule","stroke":"#000","strokeWidth":2},"encoding":{"x2":{"field":"x2"},"y2":{"field":"cp2"}}},
{"data":{"name":"ann"},"transform":[{"filter":"datum.panel=='c'&&datum.kind=='headL'"}],"mark":{"type":"point","shape":"M0,0L-0.6,1.6L0.6,1.6Z","size":200,"filled":true,"fill":"#000","strokeWidth":0,"opacity":1,"angle":270}},
{"data":{"name":"ann"},"transform":[{"filter":"datum.panel=='c'&&datum.kind=='headR'"}],"mark":{"type":"point","shape":"M0,0L-0.6,1.6L0.6,1.6Z","size":200,"filled":true,"fill":"#000","strokeWidth":0,"opacity":1,"angle":90}},
{"data":{"name":"ann"},"transform":[{"filter":"datum.panel=='c'&&datum.kind=='headP'"}],"mark":{"type":"point","shape":"M0,0L-0.6,1.6L0.6,1.6Z","size":200,"filled":true,"fill":"#000","strokeWidth":0,"opacity":1,"angle":237}},
{"data":{"name":"ann"},"transform":[{"filter":"datum.panel=='c'&&datum.kind=='sep'"}],"mark":{"type":"text","font":"Liberation Serif","fontSize":26,"align":"left","baseline":"middle","color":"#000"},"encoding":{"text":{"field":"label"}}},
{"data":{"name":"leg"},"transform":[{"filter":"datum.kind=='line'&&datum.series=='dec'"}],"mark":{"type":"rule","stroke":"#22e022","strokeWidth":1.5,"strokeDash":[7,3]},"encoding":{"x2":{"field":"x2"},"y2":{"field":"cp2"}}},
{"data":{"name":"leg"},"transform":[{"filter":"datum.kind=='line'&&datum.series=='inc'"}],"mark":{"type":"rule","stroke":"#1414e6","strokeWidth":1.5,"strokeDash":[13,4]},"encoding":{"x2":{"field":"x2"},"y2":{"field":"cp2"}}},
{"data":{"name":"leg"},"transform":[{"filter":"datum.kind=='pt'&&datum.series=='dec'"}],"mark":{"type":"point","filled":true,"fill":"#22e022","strokeWidth":0,"size":100,"opacity":1}},
{"data":{"name":"leg"},"transform":[{"filter":"datum.kind=='pt'&&datum.series=='inc'"}],"mark":{"type":"point","filled":false,"stroke":"#1414e6","strokeWidth":1.2,"size":75,"opacity":1}},
{"data":{"name":"ann"},"transform":[{"filter":"datum.panel=='c'&&datum.kind=='legtext'"}],"mark":{"type":"text","font":"Liberation Sans","fontSize":14,"align":"left","baseline":"middle","color":"#000"},"encoding":{"text":{"field":"label"}}}
]},
{"width":511,"height":346,"title":{"text":"d. AOA= 15.0 degrees","dx":-4},
"encoding":{"x":{"field":"x","type":"quantitative","title":"X/C","scale":{"domain":[0,1],"nice":false,"zero":false},"axis":{"values":[0,0.1,0.2,0.3,0.4,0.5,0.6,0.7,0.8,0.9,1],"labelExpr":"datum.value==0?'0':format(datum.value,'.1f')"}},
"y":{"field":"cp","type":"quantitative","title":"Cₚ","scale":{"domain":[-4.5,1.5],"reverse":true,"nice":false,"zero":false},"axis":{"values":[-4.5,-4,-3.5,-3,-2.5,-2,-1.5,-1,-0.5,0,0.5,1,1.5],"labelExpr":"datum.value==0?'0':(datum.value<0?'-':'')+format(abs(datum.value),'.1f')"}}},
"layer":[
{"data":{"name":"ann"},"transform":[{"filter":"datum.panel=='d'&&datum.kind=='mask'"}],"mark":{"type":"rect","fill":"#fff","strokeWidth":0},"encoding":{"x2":{"field":"x2"},"y2":{"field":"cp2"}}},
{"data":{"name":"leg"},"transform":[{"filter":"datum.kind=='box'"}],"mark":{"type":"rect","fill":"#fff","stroke":"#000","strokeWidth":1.5},"encoding":{"x2":{"field":"x2"},"y2":{"field":"cp2"}}},
{"data":{"name":"cp"},"transform":[{"filter":"datum.panel=='d'"},{"fold":["dec"],"as":["series","cp"]}],"mark":{"type":"line","stroke":"#22e022","strokeWidth":1.5,"strokeDash":[7,3],"clip":true},"encoding":{"order":{"field":"ord","type":"quantitative"}}},
{"data":{"name":"cp"},"transform":[{"filter":"datum.panel=='d'"},{"fold":["dec"],"as":["series","cp"]}],"mark":{"type":"point","filled":true,"fill":"#22e022","strokeWidth":0,"size":110,"opacity":1,"clip":true}},
{"data":{"name":"cp"},"transform":[{"filter":"datum.panel=='d'"},{"fold":["inc"],"as":["series","cp"]}],"mark":{"type":"line","stroke":"#1414e6","strokeWidth":1.5,"strokeDash":[13,4],"clip":true},"encoding":{"order":{"field":"ord","type":"quantitative"}}},
{"data":{"name":"cp"},"transform":[{"filter":"datum.panel=='d'"},{"fold":["inc"],"as":["series","cp"]}],"mark":{"type":"point","filled":false,"stroke":"#1414e6","strokeWidth":1.2,"size":110,"opacity":1,"clip":true}},
{"data":{"name":"ann"},"transform":[{"filter":"datum.panel=='d'&&datum.kind=='vline'"}],"mark":{"type":"rule","stroke":"#000","strokeWidth":2,"strokeDash":[8,4]},"encoding":{"x2":{"field":"x2"},"y2":{"field":"cp2"}}},
{"data":{"name":"ann"},"transform":[{"filter":"datum.panel=='d'&&datum.kind=='shaft'"}],"mark":{"type":"rule","stroke":"#000","strokeWidth":2},"encoding":{"x2":{"field":"x2"},"y2":{"field":"cp2"}}},
{"data":{"name":"ann"},"transform":[{"filter":"datum.panel=='d'&&datum.kind=='headL'"}],"mark":{"type":"point","shape":"M0,0L-0.6,1.6L0.6,1.6Z","size":200,"filled":true,"fill":"#000","strokeWidth":0,"opacity":1,"angle":270}},
{"data":{"name":"ann"},"transform":[{"filter":"datum.panel=='d'&&datum.kind=='headR'"}],"mark":{"type":"point","shape":"M0,0L-0.6,1.6L0.6,1.6Z","size":200,"filled":true,"fill":"#000","strokeWidth":0,"opacity":1,"angle":90}},
{"data":{"name":"ann"},"transform":[{"filter":"datum.panel=='d'&&datum.kind=='headP'"}],"mark":{"type":"point","shape":"M0,0L-0.6,1.6L0.6,1.6Z","size":200,"filled":true,"fill":"#000","strokeWidth":0,"opacity":1,"angle":237}},
{"data":{"name":"ann"},"transform":[{"filter":"datum.panel=='d'&&datum.kind=='sep'"}],"mark":{"type":"text","font":"Liberation Serif","fontSize":26,"align":"left","baseline":"middle","color":"#000"},"encoding":{"text":{"field":"label"}}},
{"data":{"name":"leg"},"transform":[{"filter":"datum.kind=='line'&&datum.series=='dec'"}],"mark":{"type":"rule","stroke":"#22e022","strokeWidth":1.5,"strokeDash":[7,3]},"encoding":{"x2":{"field":"x2"},"y2":{"field":"cp2"}}},
{"data":{"name":"leg"},"transform":[{"filter":"datum.kind=='line'&&datum.series=='inc'"}],"mark":{"type":"rule","stroke":"#1414e6","strokeWidth":1.5,"strokeDash":[13,4]},"encoding":{"x2":{"field":"x2"},"y2":{"field":"cp2"}}},
{"data":{"name":"leg"},"transform":[{"filter":"datum.kind=='pt'&&datum.series=='dec'"}],"mark":{"type":"point","filled":true,"fill":"#22e022","strokeWidth":0,"size":100,"opacity":1}},
{"data":{"name":"leg"},"transform":[{"filter":"datum.kind=='pt'&&datum.series=='inc'"}],"mark":{"type":"point","filled":false,"stroke":"#1414e6","strokeWidth":1.2,"size":75,"opacity":1}},
{"data":{"name":"ann"},"transform":[{"filter":"datum.panel=='d'&&datum.kind=='legtext'"}],"mark":{"type":"text","font":"Liberation Sans","fontSize":14,"align":"left","baseline":"middle","color":"#000"},"encoding":{"text":{"field":"label"}}}
]}
],"spacing":19},
{"hconcat":[
{"width":511,"height":346,"title":{"text":"e.\u00a0 AOA= 16.0 degrees","dx":-11},
"encoding":{"x":{"field":"x","type":"quantitative","title":"X/C","scale":{"domain":[0,1],"nice":false,"zero":false},"axis":{"values":[0,0.1,0.2,0.3,0.4,0.5,0.6,0.7,0.8,0.9,1],"labelExpr":"datum.value==0?'0':format(datum.value,'.1f')"}},
"y":{"field":"cp","type":"quantitative","title":"Cₚ","scale":{"domain":[-4.5,1.5],"reverse":true,"nice":false,"zero":false},"axis":{"values":[-4.5,-4,-3.5,-3,-2.5,-2,-1.5,-1,-0.5,0,0.5,1,1.5],"labelExpr":"datum.value==0?'0':(datum.value<0?'-':'')+format(abs(datum.value),'.1f')"}}},
"layer":[
{"data":{"name":"leg"},"transform":[{"filter":"datum.kind=='box'"}],"mark":{"type":"rect","fill":"#fff","stroke":"#000","strokeWidth":1.5},"encoding":{"x2":{"field":"x2"},"y2":{"field":"cp2"}}},
{"data":{"name":"cp"},"transform":[{"filter":"datum.panel=='e'"},{"fold":["dec"],"as":["series","cp"]}],"mark":{"type":"line","stroke":"#22e022","strokeWidth":1.5,"strokeDash":[7,3],"clip":true},"encoding":{"order":{"field":"ord","type":"quantitative"}}},
{"data":{"name":"cp"},"transform":[{"filter":"datum.panel=='e'"},{"fold":["dec"],"as":["series","cp"]}],"mark":{"type":"point","filled":true,"fill":"#22e022","strokeWidth":0,"size":110,"opacity":1,"clip":true}},
{"data":{"name":"cp"},"transform":[{"filter":"datum.panel=='e'"},{"fold":["inc"],"as":["series","cp"]}],"mark":{"type":"line","stroke":"#1414e6","strokeWidth":1.5,"strokeDash":[13,4],"clip":true},"encoding":{"order":{"field":"ord","type":"quantitative"}}},
{"data":{"name":"cp"},"transform":[{"filter":"datum.panel=='e'"},{"fold":["inc"],"as":["series","cp"]}],"mark":{"type":"point","filled":false,"stroke":"#1414e6","strokeWidth":1.2,"size":110,"opacity":1,"clip":true}},
{"data":{"name":"leg"},"transform":[{"filter":"datum.kind=='line'&&datum.series=='dec'"}],"mark":{"type":"rule","stroke":"#22e022","strokeWidth":1.5,"strokeDash":[7,3]},"encoding":{"x2":{"field":"x2"},"y2":{"field":"cp2"}}},
{"data":{"name":"leg"},"transform":[{"filter":"datum.kind=='line'&&datum.series=='inc'"}],"mark":{"type":"rule","stroke":"#1414e6","strokeWidth":1.5,"strokeDash":[13,4]},"encoding":{"x2":{"field":"x2"},"y2":{"field":"cp2"}}},
{"data":{"name":"leg"},"transform":[{"filter":"datum.kind=='pt'&&datum.series=='dec'"}],"mark":{"type":"point","filled":true,"fill":"#22e022","strokeWidth":0,"size":100,"opacity":1}},
{"data":{"name":"leg"},"transform":[{"filter":"datum.kind=='pt'&&datum.series=='inc'"}],"mark":{"type":"point","filled":false,"stroke":"#1414e6","strokeWidth":1.2,"size":75,"opacity":1}},
{"data":{"name":"ann"},"transform":[{"filter":"datum.panel=='e'&&datum.kind=='legtext'"}],"mark":{"type":"text","font":"Liberation Sans","fontSize":14,"align":"left","baseline":"middle","color":"#000"},"encoding":{"text":{"field":"label"}}}
]},
{"width":511,"height":346,"title":{"text":"f. AOA= 17.0 degrees","dx":-5},
"encoding":{"x":{"field":"x","type":"quantitative","title":"X/C","scale":{"domain":[0,1],"nice":false,"zero":false},"axis":{"values":[0,0.1,0.2,0.3,0.4,0.5,0.6,0.7,0.8,0.9,1],"labelExpr":"datum.value==0?'0':format(datum.value,'.1f')"}},
"y":{"field":"cp","type":"quantitative","title":"Cₚ","scale":{"domain":[-4.5,1.5],"reverse":true,"nice":false,"zero":false},"axis":{"values":[-4.5,-4,-3.5,-3,-2.5,-2,-1.5,-1,-0.5,0,0.5,1,1.5],"labelExpr":"datum.value==0?'0':(datum.value<0?'-':'')+format(abs(datum.value),'.1f')"}}},
"layer":[
{"data":{"name":"leg"},"transform":[{"filter":"datum.kind=='box'"}],"mark":{"type":"rect","fill":"#fff","stroke":"#000","strokeWidth":1.5},"encoding":{"x2":{"field":"x2"},"y2":{"field":"cp2"}}},
{"data":{"name":"cp"},"transform":[{"filter":"datum.panel=='f'"},{"fold":["dec"],"as":["series","cp"]}],"mark":{"type":"line","stroke":"#22e022","strokeWidth":1.5,"strokeDash":[7,3],"clip":true},"encoding":{"order":{"field":"ord","type":"quantitative"}}},
{"data":{"name":"cp"},"transform":[{"filter":"datum.panel=='f'"},{"fold":["dec"],"as":["series","cp"]}],"mark":{"type":"point","filled":true,"fill":"#22e022","strokeWidth":0,"size":110,"opacity":1,"clip":true}},
{"data":{"name":"cp"},"transform":[{"filter":"datum.panel=='f'"},{"fold":["inc"],"as":["series","cp"]}],"mark":{"type":"line","stroke":"#1414e6","strokeWidth":1.5,"strokeDash":[13,4],"clip":true},"encoding":{"order":{"field":"ord","type":"quantitative"}}},
{"data":{"name":"cp"},"transform":[{"filter":"datum.panel=='f'"},{"fold":["inc"],"as":["series","cp"]}],"mark":{"type":"point","filled":false,"stroke":"#1414e6","strokeWidth":1.2,"size":110,"opacity":1,"clip":true}},
{"data":{"name":"leg"},"transform":[{"filter":"datum.kind=='line'&&datum.series=='dec'"}],"mark":{"type":"rule","stroke":"#22e022","strokeWidth":1.5,"strokeDash":[7,3]},"encoding":{"x2":{"field":"x2"},"y2":{"field":"cp2"}}},
{"data":{"name":"leg"},"transform":[{"filter":"datum.kind=='line'&&datum.series=='inc'"}],"mark":{"type":"rule","stroke":"#1414e6","strokeWidth":1.5,"strokeDash":[13,4]},"encoding":{"x2":{"field":"x2"},"y2":{"field":"cp2"}}},
{"data":{"name":"leg"},"transform":[{"filter":"datum.kind=='pt'&&datum.series=='dec'"}],"mark":{"type":"point","filled":true,"fill":"#22e022","strokeWidth":0,"size":100,"opacity":1}},
{"data":{"name":"leg"},"transform":[{"filter":"datum.kind=='pt'&&datum.series=='inc'"}],"mark":{"type":"point","filled":false,"stroke":"#1414e6","strokeWidth":1.2,"size":75,"opacity":1}},
{"data":{"name":"ann"},"transform":[{"filter":"datum.panel=='f'&&datum.kind=='legtext'"}],"mark":{"type":"text","font":"Liberation Sans","fontSize":14,"align":"left","baseline":"middle","color":"#000"},"encoding":{"text":{"field":"label"}}}
]}
],"spacing":19}
],
"spacing":39
}
